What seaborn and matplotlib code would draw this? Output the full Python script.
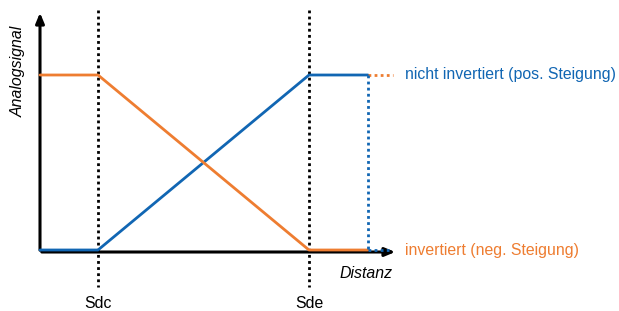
import pandas as pd
import matplotlib.pyplot as plt
import seaborn as sns

# Kennlinien (Distanz in Pixel-Einheiten ab Ursprung, Signal ab Nulllinie)
distanz = [0, 58, 269, 328]
nicht_invertiert = [2, 2, 177, 177]
invertiert = [177, 177, 2, 2]
sdc, sde = 58, 269
label_pos = 'nicht invertiert (pos. Steigung)'
label_neg = 'invertiert (neg. Steigung)'

blau = '#1166b3'
orange = '#ee7d31'

sns.set_style('white')
plt.rcParams['font.family'] = ['Liberation Sans', 'DejaVu Sans']
plt.rcParams['text.color'] = 'black'

df = pd.DataFrame({
    'Distanz': distanz * 2,
    'Signal': nicht_invertiert + invertiert,
    'Kurve': [label_pos] * 4 + [label_neg] * 4,
})

fig = plt.figure(figsize=(6.19, 3.11), dpi=100)
ax = fig.add_axes([0, 0, 1, 1])
ax.set_xlim(-40, 579)
ax.set_ylim(-59, 252)
ax.axis('off')

# Hilfslinien Sdc / Sde
for s in (sdc, sde):
    ax.plot([s, s], [242, -35], color='black', lw=2, ls=(0, (1, 1.2)), zorder=1)

# Achsen mit Pfeilen
ax.annotate('', xy=(0, 242), xytext=(0, -1),
            arrowprops=dict(arrowstyle='-|>,head_width=0.25,head_length=0.6', lw=2.2, color='black'))
ax.annotate('', xy=(358, 0), xytext=(-1, 0),
            arrowprops=dict(arrowstyle='-|>,head_width=0.25,head_length=0.6', lw=2.2, color='black'))

# Kennlinien
sns.lineplot(data=df, x='Distanz', y='Signal', hue='Kurve',
             palette={label_pos: blau, label_neg: orange},
             lw=2, legend=False, ax=ax, zorder=4)

# gepunktete Fortsetzungen
end = distanz[-1]
ax.plot([end, end + 25], [nicht_invertiert[-1]] * 2, color=orange, lw=2, ls=(0, (1, 1.2)), zorder=5)
ax.plot([end, end], [nicht_invertiert[-1], 1], color=blau, lw=2, ls=(0, (1, 1.2)), zorder=5)
ax.plot([end, end + 21], [2, 2], color=blau, lw=2, ls=(0, (1, 1.2)), zorder=5)

# Beschriftungen
fs = 11.4
ax.text(-22, 181, 'Analogsignal', rotation=90, style='italic', fontsize=fs,
        ha='center', va='center')
ax.text(326, -21, 'Distanz', style='italic', fontsize=fs, ha='center', va='center')
ax.text(sdc, -51, 'Sdc', fontsize=fs, ha='center', va='center')
ax.text(sde, -51, 'Sde', fontsize=fs, ha='center', va='center')
ax.text(365, 177, label_pos, color=blau, fontsize=fs, ha='left', va='center')
ax.text(365, 2, label_neg, color=orange, fontsize=fs, ha='left', va='center')

fig.savefig('out.png', dpi=100)
